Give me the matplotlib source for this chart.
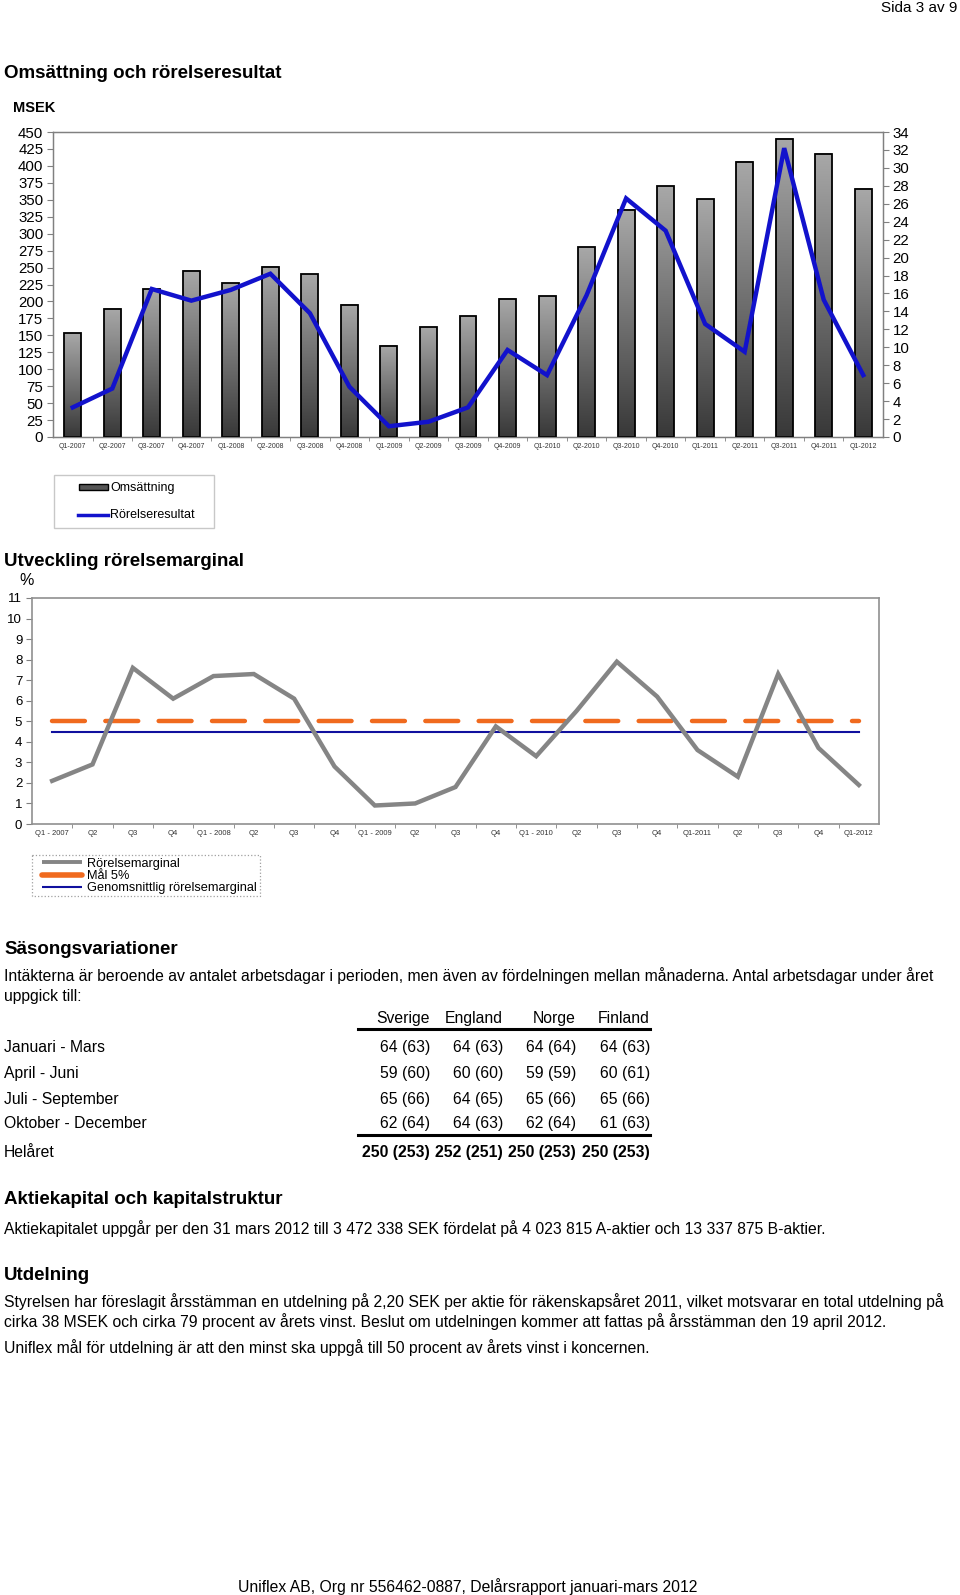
import numpy as np
import matplotlib
matplotlib.use('Agg')
import matplotlib.pyplot as plt
from matplotlib.lines import Line2D
from matplotlib.patches import Rectangle
from matplotlib.colors import LinearSegmentedColormap

plt.rcParams['font.family'] = ['Liberation Sans', 'DejaVu Sans']

# data
kvartal = ['Q1-2007', 'Q2-2007', 'Q3-2007', 'Q4-2007', 'Q1-2008', 'Q2-2008', 'Q3-2008', 'Q4-2008',
           'Q1-2009', 'Q2-2009', 'Q3-2009', 'Q4-2009', 'Q1-2010', 'Q2-2010', 'Q3-2010', 'Q4-2010',
           'Q1-2011', 'Q2-2011', 'Q3-2011', 'Q4-2011', 'Q1-2012']
omsattning = [153, 189, 218, 245, 227, 251, 240, 195, 135, 162, 178, 204, 208, 280, 335, 370,
              351, 406, 440, 418, 366]
rorelseresultat = [3.3, 5.4, 16.5, 15.2, 16.4, 18.2, 13.8, 5.6, 1.2, 1.7, 3.3, 9.7, 6.9, 15.8,
                   26.6, 23.0, 12.6, 9.5, 32.2, 15.3, 6.9]

kvartal_kort = ['Q1 - 2007', 'Q2', 'Q3', 'Q4', 'Q1 - 2008', 'Q2', 'Q3', 'Q4', 'Q1 - 2009', 'Q2',
                'Q3', 'Q4', 'Q1 - 2010', 'Q2', 'Q3', 'Q4', 'Q1-2011', 'Q2', 'Q3', 'Q4', 'Q1-2012']
marginal = [2.1, 2.9, 7.6, 6.1, 7.2, 7.3, 6.1, 2.8, 0.9, 1.0, 1.8, 4.75, 3.3, 5.5, 7.9, 6.2,
            3.6, 2.3, 7.3, 3.7, 1.9]
mal = 5.0
snitt = 4.5

perioder = ['Januari - Mars', 'April - Juni', 'Juli - September', 'Oktober - December']
lander = ['Sverige', 'England', 'Norge', 'Finland']
dagar = [['64 (63)', '64 (63)', '64 (64)', '64 (63)'],
         ['59 (60)', '60 (60)', '59 (59)', '60 (61)'],
         ['65 (66)', '64 (65)', '65 (66)', '65 (66)'],
         ['62 (64)', '64 (63)', '62 (64)', '61 (63)']]
helaret = ['250 (253)', '252 (251)', '250 (253)', '250 (253)']

W, H = 960, 1595
fig = plt.figure(figsize=(W / 100, H / 100), dpi=100)


def box(l, t, r, b):
    return [l / W, 1 - b / H, (r - l) / W, (b - t) / H]


GRAY = '#808080'
BLUE = '#1212CC'
ORANGE = '#F06A1E'
NAVY = '#10109E'
LGRAY = '#858585'
BODY = 11.35
HEAD = 13.5

# ---- chart 1: omsättning (bars) + rörelseresultat (line)
ax = fig.add_axes(box(53, 132, 883, 437))
x = np.arange(len(kvartal))
cmap = LinearSegmentedColormap.from_list('bar', ['#383838', '#a8a8a8'])
grad = np.linspace(0, 1, 256).reshape(-1, 1)
bars = ax.bar(x, omsattning, width=0.43, facecolor='none', edgecolor='black', lw=1.3, zorder=3)
for b in bars:
    ax.imshow(grad, extent=(b.get_x(), b.get_x() + b.get_width(), 0, b.get_height()),
              aspect='auto', cmap=cmap, origin='lower', zorder=2)
ax.set_xlim(-0.5, len(kvartal) - 0.5)
ax.set_ylim(0, 450)
ax.set_yticks(range(0, 451, 25))
ax.set_xticks(x, kvartal, fontsize=5)
ax.set_xticks(x[:-1] + 0.5, minor=True)
ax.tick_params(axis='x', which='major', length=0, pad=4, labelcolor='#333333')
ax.tick_params(axis='x', which='minor', length=3, color=GRAY)
ax.tick_params(axis='y', labelsize=10.8, length=4, color=GRAY, pad=3)
for s in ax.spines.values():
    s.set_color(GRAY)
    s.set_linewidth(1)

ax2 = ax.twinx()
ax2.plot(x, rorelseresultat, color=BLUE, lw=3.2, solid_joinstyle='miter', zorder=4)
ax2.set_ylim(0, 34)
ax2.set_yticks(range(0, 35, 2))
ax2.tick_params(axis='y', labelsize=10.8, length=4, color=GRAY, pad=3)
for s in ax2.spines.values():
    s.set_color(GRAY)

# ---- chart 2: rörelsemarginal
bx = fig.add_axes(box(32, 598, 879, 824))
bx.plot(x, marginal, color=LGRAY, lw=3.2, solid_joinstyle='miter', zorder=3)
bx.plot(x, [mal] * len(x), color=ORANGE, lw=3.2, dashes=(7.4, 4.6), dash_capstyle='round',
        zorder=2)
bx.plot(x, [snitt] * len(x), color=NAVY, lw=1.5, zorder=2)
bx.set_xlim(-0.5, len(x) - 0.5)
bx.set_ylim(0, 11)
bx.set_yticks(range(0, 12))
bx.set_xticks(x, kvartal_kort, fontsize=5.5)
bx.set_xticks(x[:-1] + 0.5, minor=True)
bx.tick_params(axis='x', which='major', length=0, pad=4, labelcolor='#333333')
bx.tick_params(axis='x', which='minor', length=3, color=GRAY)
bx.tick_params(axis='y', labelsize=9.5, length=4, color=GRAY, pad=3)
for s in bx.spines.values():
    s.set_color('#909090')
    s.set_linewidth(1.2)

# ---- page layer in pixel coordinates (texts, legends, table rules)
page = fig.add_axes([0, 0, 1, 1], zorder=5)
page.set_xlim(0, W)
page.set_ylim(H, 0)
page.axis('off')


def txt(x, y, s, **kw):
    kw.setdefault('va', 'center_baseline')
    kw.setdefault('fontsize', BODY)
    page.text(x, y, s, **kw)


txt(957, 7, 'Sida 3 av 9', ha='right', fontsize=11)
txt(4, 71, 'Omsättning och rörelseresultat', fontsize=HEAD, weight='bold')
txt(13, 106, 'MSEK', fontsize=10.5, weight='bold')

# legend chart 1
page.add_patch(Rectangle((54, 475), 160, 53, fill=False, edgecolor='#c8c8c8', lw=1))
page.add_patch(Rectangle((79, 484), 29, 6, facecolor='#555555', edgecolor='black', lw=1))
txt(110, 487, 'Omsättning', fontsize=9)
page.plot([78, 108], [515, 515], color=BLUE, lw=2.5)
txt(110, 514, 'Rörelseresultat', fontsize=9)

txt(4, 559, 'Utveckling rörelsemarginal', fontsize=HEAD, weight='bold')
txt(19, 579, '%', fontsize=11.5)

# legend chart 2
page.add_patch(Rectangle((32, 855), 228, 41, fill=False, edgecolor='#a0a0a0', lw=0.9,
                         linestyle=':'))
for yy, col, lw, lab in [(862, LGRAY, 2.8, 'Rörelsemarginal'), (874.5, ORANGE, 4, 'Mål 5%'),
                         (887, NAVY, 1.5, 'Genomsnittlig rörelsemarginal')]:
    page.plot([42, 82], [yy, yy], color=col, lw=lw,
              solid_capstyle='round' if col == ORANGE else 'butt')
    txt(87, yy, lab, fontsize=9.2)

# ---- text and table
txt(4, 947, 'Säsongsvariationer', fontsize=HEAD, weight='bold')
txt(4, 974, 'Intäkterna är beroende av antalet arbetsdagar i perioden, men även av fördelningen '
            'mellan månaderna. Antal arbetsdagar under året')
txt(4, 995, 'uppgick till:')

col_right = [430, 503, 576, 650]
for cx, land in zip(col_right, lander):
    txt(cx, 1017, land, ha='right')
page.plot([358, 650], [1029, 1029], color='black', lw=2.2)
row_y = [1046, 1072, 1098, 1122]
for ry, namn, rad in zip(row_y, perioder, dagar):
    txt(4, ry, namn)
    for cx, v in zip(col_right, rad):
        txt(cx, ry, v, ha='right')
page.plot([358, 650], [1135, 1135], color='black', lw=2.2)
txt(4, 1151, 'Helåret')
for cx, v in zip(col_right, helaret):
    txt(cx, 1151, v, ha='right', weight='bold')

txt(4, 1198, 'Aktiekapital och kapitalstruktur', fontsize=HEAD, weight='bold')
txt(4, 1227, 'Aktiekapitalet uppgår per den 31 mars 2012 till 3 472 338 SEK fördelat på '
             '4 023 815 A-aktier och 13 337 875 B-aktier.')
txt(4, 1273, 'Utdelning', fontsize=HEAD, weight='bold')
txt(4, 1300, 'Styrelsen har föreslagit årsstämman en utdelning på 2,20 SEK per aktie för '
             'räkenskapsåret 2011, vilket motsvarar en total utdelning på')
txt(4, 1320, 'cirka 38 MSEK och cirka 79 procent av årets vinst. Beslut om utdelningen kommer att '
             'fattas på årsstämman den 19 april 2012.')
txt(4, 1346, 'Uniflex mål för utdelning är att den minst ska uppgå till 50 procent av årets vinst '
             'i koncernen.')

txt(468, 1585, 'Uniflex AB, Org nr 556462-0887, Delårsrapport januari-mars 2012', ha='center')

fig.savefig('out.png', dpi=100)
